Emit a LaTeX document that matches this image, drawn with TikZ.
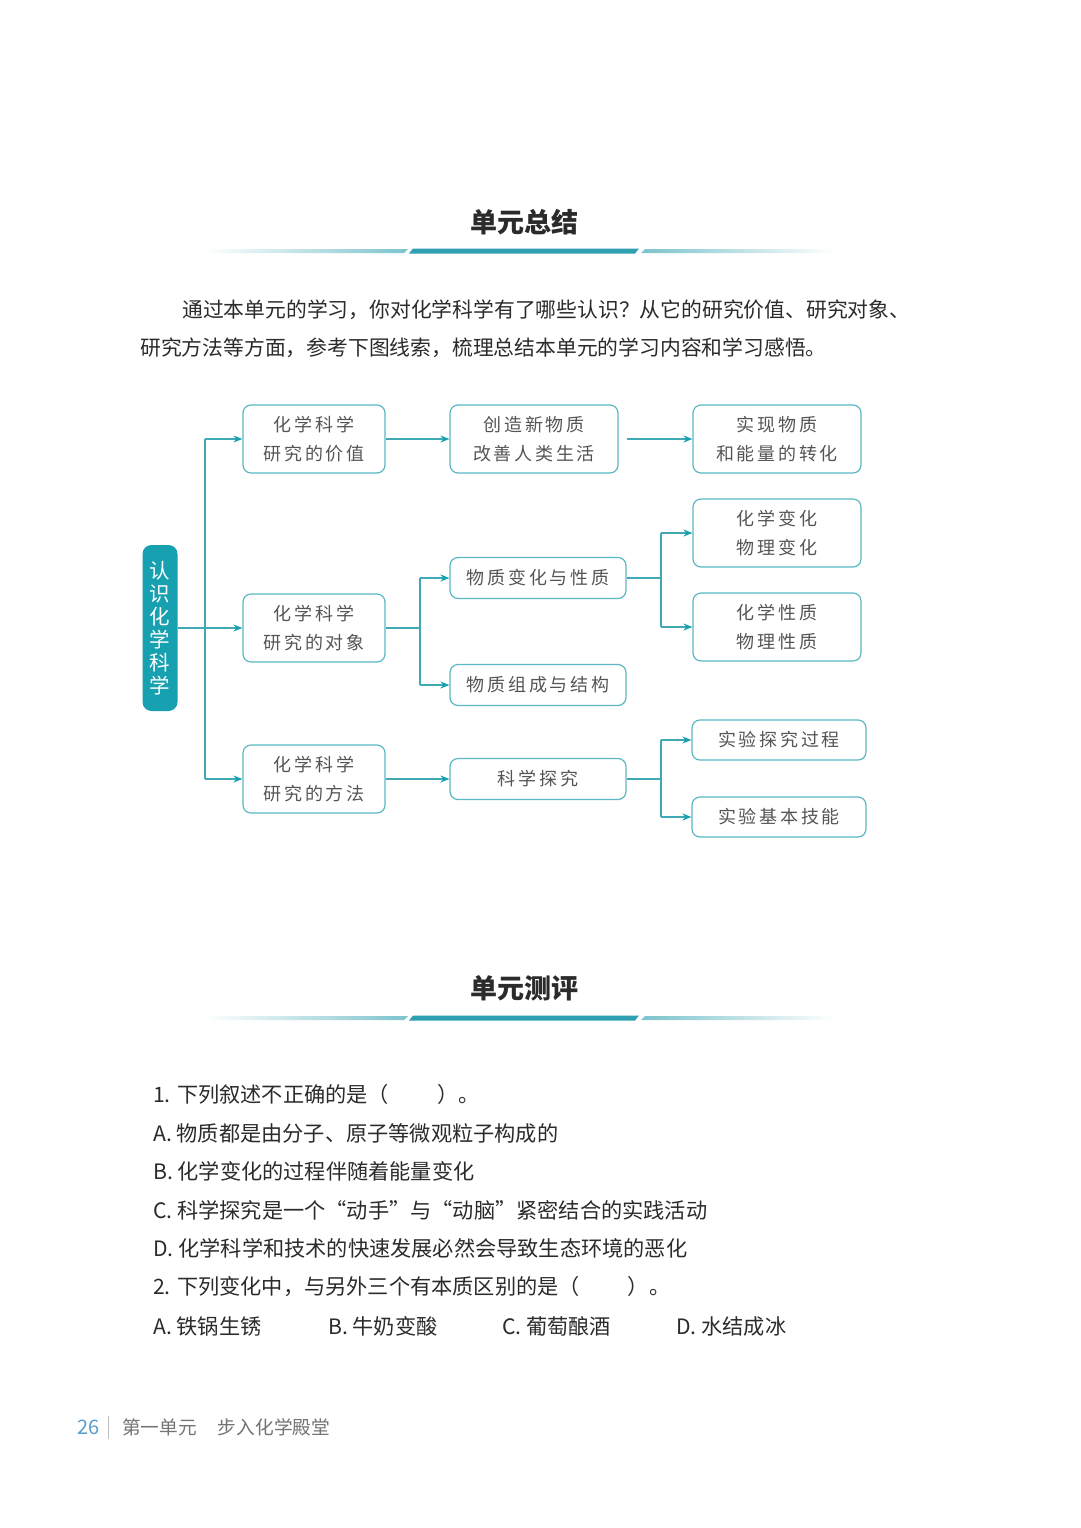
\documentclass[tikz,border=0pt]{standalone}
\usepackage{fontspec}
\setmainfont{Noto Sans CJK SC}
\newfontfamily\boxfont[LetterSpace=15]{Noto Sans CJK SC}
\usetikzlibrary{arrows.meta}

\definecolor{lnk}{HTML}{3FAAB6}
\definecolor{boxline}{HTML}{5BB8C2}
\definecolor{rootc}{HTML}{16A0B0}
\definecolor{txt}{HTML}{555555}
\definecolor{ink}{HTML}{2B2B2B}
\definecolor{rulec}{HTML}{7CC3CC}
\definecolor{rulemid}{HTML}{2EA0B2}
\definecolor{pagenum}{HTML}{5B9EC9}

\begin{document}
\begin{tikzpicture}[x=1pt,y=-1pt]
  \tikzset{box/.style={draw=boxline, line width=1.2pt, rounded corners=8pt,
      minimum width=142pt, minimum height=68pt, inner sep=0pt, align=center,
      text=txt, font=\boxfont\fontsize{18}{29}\selectfont}}
  \tikzset{widebox/.style={box, minimum width=168pt}}
  \tikzset{flatbox/.style={box, minimum width=176pt, minimum height=41pt}}
  \tikzset{link/.style={draw=lnk, line width=1.3pt}}
  \tikzset{arr/.style={link, -{Stealth[length=9pt,width=7pt,color=rootc]}}}
  \tikzset{para/.style={anchor=west, inner sep=0pt, text=ink, font=\fontsize{20.8}{25}\selectfont}}
  \tikzset{quiz/.style={anchor=west, inner sep=0pt, text=ink, font=\fontsize{21.2}{25}\selectfont}}
  \tikzset{heading/.style={inner sep=0pt, text=ink, font=\bfseries\fontsize{27}{30}\selectfont}}

  \useasboundingbox (0,0) rectangle (1080,1528);
  \fill[white] (0,0) rectangle (1080,1528);

  % headings and rules
  \node[heading] (sumtitle) at (524,222) {单元总结};
  \node[heading] (testtitle) at (524,988) {单元测评};
  \foreach \y in {251,1018} {
    \shade[left color=white, right color=rulec]
      (205,\y-2) -- (408,\y-2) -- (404,\y+2) -- (205,\y+2) -- cycle;
    \fill[rulemid] (413,\y-2.5) -- (639,\y-2.5) -- (635,\y+2.5) -- (409,\y+2.5) -- cycle;
    \shade[left color=rulec, right color=white]
      (645,\y-2) -- (835,\y-2) -- (835,\y+2) -- (641,\y+2) -- cycle;
  }

  % intro
  \node[para] (intro1) at (182,310) {通过本单元的学习，你对化学科学有了哪些认识？从它的研究价值、研究对象、};
  \node[para] (intro2) at (140,348) {研究方法等方面，参考下图线索，梳理总结本单元的学习内容和学习感悟。};

  % map
  \node[fill=rootc, rounded corners=9pt, minimum width=35pt, minimum height=166pt,
    inner sep=0pt, align=center, text=white, font=\fontsize{20.5}{23}\selectfont]
    (root) at (160,628) {认\\识\\化\\学\\科\\学};

  \node[box] (value) at (314,439) {化学科学\\研究的价值};
  \node[box] (object) at (314,628) {化学科学\\研究的对象};
  \node[box] (method) at (314,779) {化学科学\\研究的方法};

  \node[widebox] (create) at (534,439) {创造新物质\\改善人类生活};
  \node[widebox] (convert) at (777,439) {实现物质\\和能量的转化};

  \node[flatbox] (change) at (538,578) {物质变化与性质};
  \node[flatbox] (struct) at (538,685) {物质组成与结构};
  \node[widebox] (chgkind) at (777,533) {化学变化\\物理变化};
  \node[widebox] (propkind) at (777,627) {化学性质\\物理性质};

  \node[flatbox] (inquiry) at (538,779) {科学探究};
  \node[flatbox, minimum width=174pt, minimum height=40pt] (process) at (779,740) {实验探究过程};
  \node[flatbox, minimum width=174pt, minimum height=40pt] (skill) at (779,817) {实验基本技能};

  \coordinate (trunk) at (205,628);
  \coordinate (fork1) at (420,628);
  \coordinate (fork2) at (661,578);
  \coordinate (fork3) at (661,779);

  \draw[link] (trunk |- value.west) -- (trunk |- method.west);
  \draw[arr] (root.east) -- (object.west);
  \draw[arr] (trunk |- value.west) -- (value.west);
  \draw[arr] (trunk |- method.west) -- (method.west);

  \draw[arr] (value.east) -- (create.west);
  \draw[arr, shorten <=8pt] (create.east) -- (convert.west);
  \draw[arr] (method.east) -- (inquiry.west);

  \draw[link] (object.east) -- (fork1);
  \draw[link] (fork1 |- change.west) -- (fork1 |- struct.west);
  \draw[arr] (fork1 |- change.west) -- (change.west);
  \draw[arr] (fork1 |- struct.west) -- (struct.west);

  \draw[link] (change.east) -- (fork2);
  \draw[link] (fork2 |- chgkind.west) -- (fork2 |- propkind.west);
  \draw[arr] (fork2 |- chgkind.west) -- (chgkind.west);
  \draw[arr] (fork2 |- propkind.west) -- (propkind.west);

  \draw[link] (inquiry.east) -- (fork3);
  \draw[link] (fork3 |- process.west) -- (fork3 |- skill.west);
  \draw[arr] (fork3 |- process.west) -- (process.west);
  \draw[arr] (fork3 |- skill.west) -- (skill.west);

  % questions
  \node[quiz] (q1) at (153,1094) {1. 下列叙述不正确的是（\hspace{48pt}）。};
  \node[quiz] (q1a) at (153,1133) {A. 物质都是由分子、原子等微观粒子构成的};
  \node[quiz] (q1b) at (153,1171) {B. 化学变化的过程伴随着能量变化};
  \node[quiz] (q1c) at (153,1210) {C. 科学探究是一个“动手”与“动脑”紧密结合的实践活动};
  \node[quiz] (q1d) at (153,1248) {D. 化学科学和技术的快速发展必然会导致生态环境的恶化};
  \node[quiz] (q2) at (153,1287) {2. 下列变化中，与另外三个有本质区别的是（\hspace{48pt}）。};
  \node[quiz] (q2a) at (153,1326) {A. 铁锅生锈};
  \node[quiz] (q2b) at (328,1326) {B. 牛奶变酸};
  \node[quiz] (q2c) at (502,1326) {C. 葡萄酿酒};
  \node[quiz] (q2d) at (676,1326) {D. 水结成冰};

  % footer
  \node[anchor=west, inner sep=0pt, text=pagenum, font=\fontsize{20}{22}\selectfont] (pnum) at (77,1427) {26};
  \draw[black!25, line width=1pt] (108,1416) -- (108,1439);
  \node[anchor=west, inner sep=0pt, text=black!55, font=\fontsize{18.7}{20}\selectfont] (unit) at (122,1427) {第一单元\hspace{21pt}步入化学殿堂};
\end{tikzpicture}
\end{document}
